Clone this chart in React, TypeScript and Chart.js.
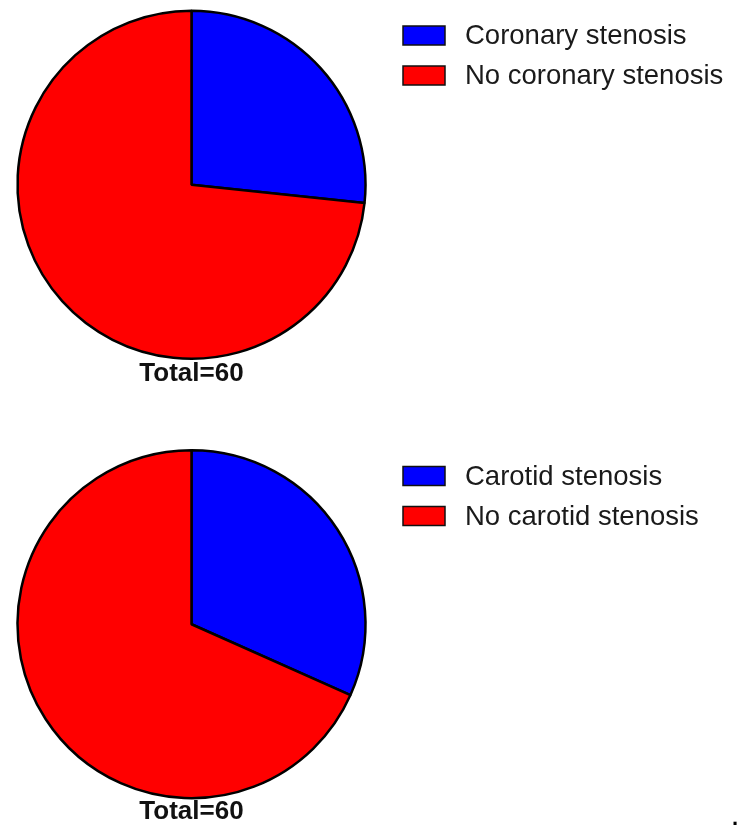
import React, { useEffect, useRef } from "react";
import { Chart, registerables } from "chart.js";

Chart.register(...registerables);

const coronaryLabels = ["Coronary stenosis", "No coronary stenosis"];
const coronaryValues = [16, 44];
const carotidLabels = ["Carotid stenosis", "No carotid stenosis"];
const carotidValues = [19, 41];
const sliceColors = ["#0000FF", "#FF0000"];
const totalText = "Total=60";

const boxLegendPlugin = {
  id: "boxLegend",
  afterDraw(chart: any, _args: any, opts: any) {
    const ctx = chart.ctx;
    const labels: string[] = chart.data.labels;
    const colors: string[] = chart.data.datasets[0].backgroundColor;
    ctx.save();
    labels.forEach((label, i) => {
      const cy = opts.y + i * opts.gap;
      ctx.fillStyle = colors[i];
      ctx.fillRect(opts.x, cy - opts.boxH / 2, opts.boxW, opts.boxH);
      ctx.lineWidth = 1.5;
      ctx.strokeStyle = "#111";
      ctx.strokeRect(opts.x, cy - opts.boxH / 2, opts.boxW, opts.boxH);
      ctx.fillStyle = "#1a1a1a";
      ctx.font = "27.5px 'Liberation Sans', Arial, sans-serif";
      ctx.textBaseline = "middle";
      ctx.textAlign = "left";
      ctx.fillText(label, opts.textX, cy + 1);
    });
    ctx.restore();
  },
};

function PieChart(props: {
  labels: string[];
  values: number[];
  height: number;
  padTop: number;
  padBottom: number;
  legendY: number;
}) {
  const ref = useRef<HTMLCanvasElement>(null);
  useEffect(() => {
    if (!ref.current) return;
    const chart = new Chart(ref.current, {
      type: "pie",
      data: {
        labels: props.labels,
        datasets: [
          {
            data: props.values,
            backgroundColor: sliceColors,
            borderColor: "#000",
            borderWidth: 2.5,
            radius: 174,
          } as any,
        ],
      },
      options: {
        responsive: false,
        animation: false,
        events: [],
        layout: {
          padding: { left: 0, right: 357, top: props.padTop, bottom: props.padBottom },
        },
        plugins: {
          legend: { display: false },
          tooltip: { enabled: false },
          title: {
            display: true,
            text: totalText,
            position: "bottom",
            fullSize: false,
            color: "#111",
            padding: 0,
            font: { family: "'Liberation Sans', Arial, sans-serif", size: 26, weight: "bold", lineHeight: 1 },
          },
          boxLegend: { x: 403, y: props.legendY, gap: 40, boxW: 42, boxH: 19, textX: 465 },
        } as any,
      },
      plugins: [boxLegendPlugin],
    });
    return () => chart.destroy();
  }, []);
  return <canvas ref={ref} width={740} height={props.height} style={{ display: "block" }} />;
}

export default function App() {
  return (
    <div style={{ position: "absolute", left: 0, top: 0, width: 740, height: 825, background: "#fff" }}>
      <div style={{ position: "absolute", left: 0, top: 0 }}>
        <PieChart labels={coronaryLabels} values={coronaryValues} height={412} padTop={8.5} padBottom={25} legendY={35.5} />
      </div>
      <div style={{ position: "absolute", left: 0, top: 412 }}>
        <PieChart labels={carotidLabels} values={carotidValues} height={413} padTop={38} padBottom={0.5} legendY={64} />
      </div>
      <span
        style={{
          position: "absolute",
          left: 732,
          top: 805,
          fontFamily: "'Liberation Sans', Arial, sans-serif",
          fontSize: 22,
          fontWeight: "bold",
          color: "#000",
        }}
      >
        .
      </span>
    </div>
  );
}
